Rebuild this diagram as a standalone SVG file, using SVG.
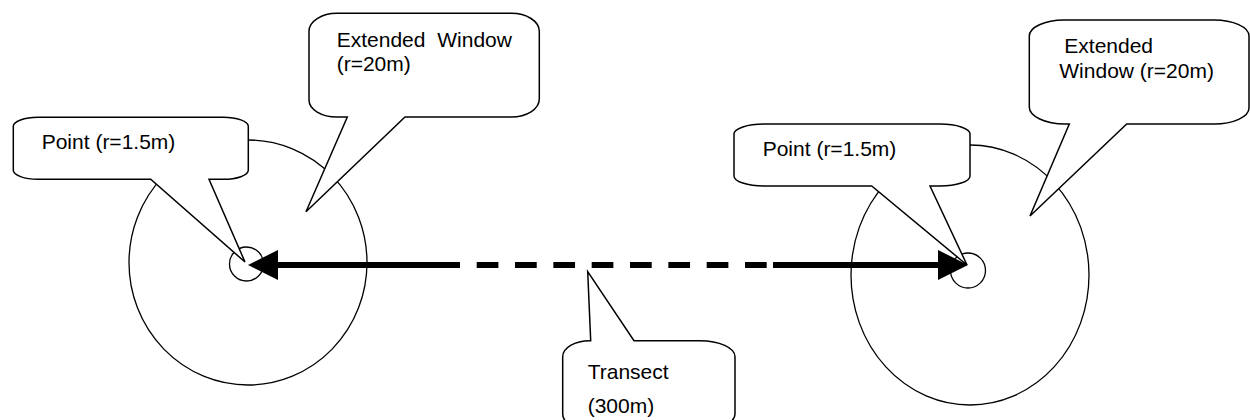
<svg xmlns="http://www.w3.org/2000/svg" width="1250" height="420" viewBox="0 0 1250 420">
<defs>
<style>
.ring{fill:none;stroke:#000;stroke-width:1.3}
.call{fill:#fff;stroke:#000;stroke-width:1.5;stroke-linejoin:miter}
.lbl{font-family:"Liberation Sans",Arial,sans-serif;font-size:21px;fill:#000}
.shaft{stroke:#000;stroke-width:6;fill:none}
.head{fill:#000;stroke:none}
</style>
</defs>
<rect width="1250" height="420" fill="#fff"/>
<g id="left-window-circle"><ellipse class="ring" cx="248" cy="262.5" rx="119" ry="122.5"/></g>
<g id="right-window-circle"><ellipse class="ring" cx="970" cy="275" rx="119" ry="130"/></g>
<g id="left-point-circle"><circle class="ring" cx="246.5" cy="264" r="17"/></g>
<g id="right-point-circle"><circle class="ring" cx="968" cy="270.5" r="17.5"/></g>
<g id="left-point-callout">
<path class="call" d="M38,117.3 H223 A25 9 0 0 1 248.3,126.3 V170.3 A25 9 0 0 1 223,179.3 H209 L245,262 L150.7,179.3 H38 A25 9 0 0 1 13.3,170.3 V126.3 A25 9 0 0 1 38,117.3 Z"/>
<text class="lbl" x="41.7" y="149.3">Point (r=1.5m)</text>
</g>
<g id="left-window-callout">
<path class="call" d="M337,13.3 H511 A28 18 0 0 1 539.3,31.3 V99 A28 18 0 0 1 511,117 H405 L306,211.7 L347.3,117 H337 A28 17 0 0 1 309,100 V31.3 A28 18 0 0 1 337,13.3 Z"/>
<text class="lbl" x="336.7" y="46.7" word-spacing="6">Extended Window</text>
<text class="lbl" x="336.7" y="70.7">(r=20m)</text>
</g>
<g id="right-point-callout">
<path class="call" d="M764,124 H940 A30 10 0 0 1 970,134 V176 A30 10 0 0 1 940,186 H930 L967,265 L871.7,186 H764 A30 10 0 0 1 734,176 V134 A30 10 0 0 1 764,124 Z"/>
<text class="lbl" x="762.7" y="156">Point (r=1.5m)</text>
</g>
<g id="right-window-callout">
<path class="call" d="M1064,20 H1214 A35 16 0 0 1 1249,36 V108 A35 16 0 0 1 1214,124 H1126.7 L1030,216 L1069.3,124 H1065 A36 17 0 0 1 1029.3,107 V36 A35 16 0 0 1 1064,20 Z"/>
<text class="lbl" x="1064.3" y="52.7">Extended</text>
<text class="lbl" x="1059.3" y="77.7">Window (r=20m)</text>
</g>
<g id="transect-callout">
<path class="call" d="M562.7,356.7 A27 16 0 0 1 589.7,340.7 H590.7 L587.7,271.7 L634,340.7 H700 A35 16 0 0 1 735,356.7 V414 A35 16 0 0 1 700,430 H590 A27 16 0 0 1 562.7,414 Z"/>
<text class="lbl" x="587.7" y="379">Transect</text>
<text class="lbl" x="587.7" y="413">(300m)</text>
</g>
<g id="connectors">
<line class="shaft" x1="275" y1="265" x2="460" y2="265"/>
<line class="shaft" x1="476.7" y1="265" x2="766.7" y2="265" stroke-dasharray="21.7 16.63"/>
<line class="shaft" x1="773" y1="265" x2="941" y2="265"/>
<polygon class="head" points="248,265 278,250 278,280"/>
<polygon class="head" points="968,265 938,250 938,280"/>
</g>
</svg>
